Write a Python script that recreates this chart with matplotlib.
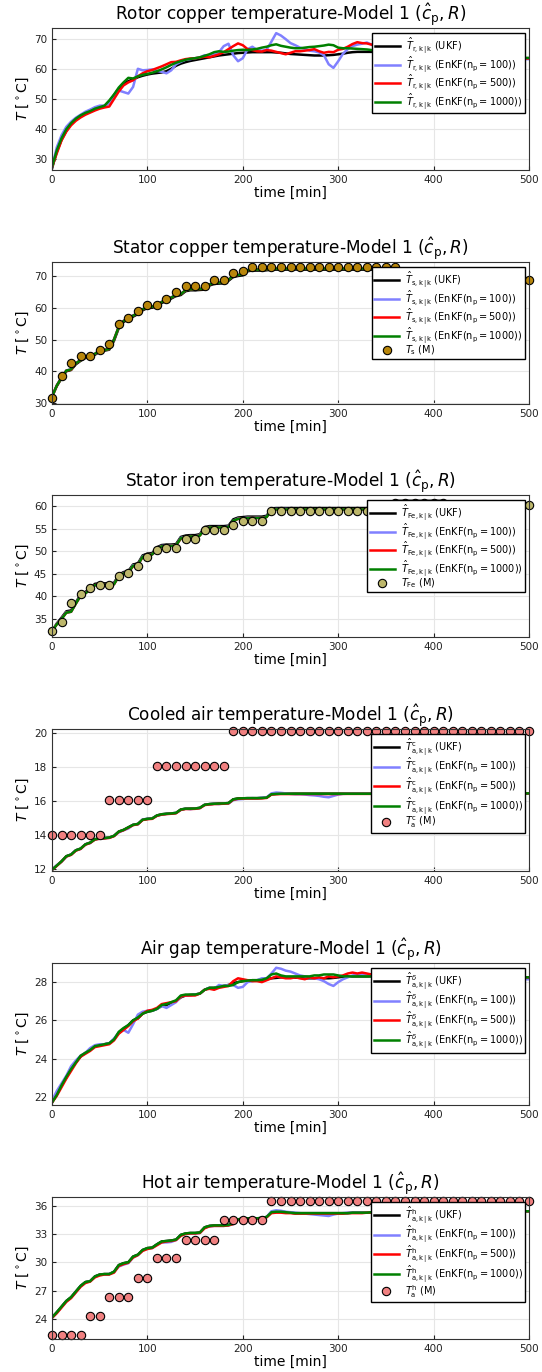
import numpy as np
import matplotlib
matplotlib.use("Agg")
import matplotlib.pyplot as plt

# time grids [min]
t = np.arange(0, 501, 5)      # estimates
t_m = np.arange(0, 501, 10)   # measurements

# ---------------- rotor copper ----------------
rotor_ukf = [27.0, 32.5, 36.5, 39.5, 41.8, 43.2, 44.3, 45.2, 46.0, 46.7,
             47.2, 47.6, 49.0, 51.3, 53.4, 55.0, 55.9, 56.5, 57.2, 57.7,
             58.1, 58.4, 58.6, 58.8, 59.2, 60.0, 61.0, 61.7, 62.2, 62.6,
             62.9, 63.2, 63.5, 63.8, 64.1, 64.4, 64.6, 64.8, 65.0, 65.2,
             65.3, 65.4, 65.5, 65.5, 65.5, 65.5, 65.5, 65.4, 65.3, 65.1,
             64.9, 64.8, 64.7, 64.6, 64.5, 64.4, 64.4, 64.4, 64.5, 64.6,
             64.8, 65.0, 65.3, 65.5, 65.6, 65.6, 65.6, 65.6, 65.5, 65.4,
             65.3, 65.2, 65.1, 65.0, 64.9, 64.8, 64.7, 64.6, 64.5, 64.4,
             64.3, 64.2, 64.1, 64.0, 64.0, 63.9, 63.9, 63.8, 63.8, 63.8,
             63.7, 63.7, 63.7, 63.6, 63.6, 63.6, 63.6, 63.5, 63.5, 63.5,
             63.5]
rotor_enkf100 = [27.5, 34.0, 38.0, 40.8, 42.5, 43.8, 44.8, 45.8, 46.5, 47.3,
                 47.8, 47.8, 48.5, 50.8, 52.8, 52.3, 51.8, 54.0, 60.0, 59.5,
                 59.6, 59.8, 59.3, 59.0, 58.5, 59.5, 61.5, 62.3, 63.0, 63.2,
                 63.5, 63.8, 64.5, 64.3, 65.0, 65.5, 67.5, 68.3, 64.5, 62.5,
                 63.5, 66.5, 67.3, 66.2, 66.0, 66.3, 69.0, 71.8, 71.0, 69.8,
                 68.5, 67.8, 67.0, 66.6, 66.0, 65.8, 65.4, 64.5, 61.5, 60.3,
                 62.5, 65.0, 66.5, 67.5, 68.0, 68.3, 68.7, 68.0, 67.0, 66.2,
                 65.5, 65.0, 64.5, 64.2, 64.0, 63.8, 63.8, 63.6, 63.5, 63.4,
                 63.4, 63.3, 63.3, 63.2, 63.2, 63.1, 63.1, 63.0, 63.0, 63.0,
                 63.0, 63.0, 62.9, 62.9, 62.9, 63.0, 63.0, 63.0, 63.1, 63.2,
                 63.2]
rotor_enkf500 = [27.5, 32.0, 36.3, 39.2, 41.3, 42.8, 43.9, 44.8, 45.5, 46.2,
                 46.8, 47.2, 47.5, 50.0, 52.5, 54.5, 55.5, 56.2, 57.5, 58.5,
                 59.2, 59.6, 60.2, 60.8, 61.5, 62.2, 62.3, 62.8, 63.2, 63.4,
                 63.5, 63.7, 64.0, 63.8, 64.3, 64.8, 65.5, 66.5, 67.5, 68.4,
                 67.8, 66.5, 66.2, 65.8, 65.7, 66.2, 66.0, 65.6, 65.2, 64.8,
                 65.3, 65.8, 65.8, 66.0, 66.2, 66.5, 65.8, 65.3, 65.6, 65.5,
                 66.3, 66.6, 67.3, 68.2, 68.8, 68.5, 68.4, 68.0, 67.5, 67.0,
                 66.5, 66.0, 65.6, 65.2, 65.0, 64.8, 64.6, 64.5, 64.4, 64.3,
                 64.2, 64.1, 64.0, 64.0, 63.9, 63.9, 63.8, 63.8, 63.8, 63.7,
                 63.7, 63.7, 63.6, 63.6, 63.6, 63.5, 63.5, 63.5, 63.5, 63.4,
                 63.4]
rotor_enkf1000 = [27.5, 33.0, 37.0, 40.0, 42.0, 43.5, 44.6, 45.4, 46.0, 46.8,
                  47.3, 47.8, 49.5, 51.5, 53.8, 55.5, 57.0, 56.8, 57.5, 58.0,
                  58.3, 58.7, 59.2, 59.8, 60.5, 61.3, 62.0, 62.5, 63.0, 63.3,
                  63.5, 63.8, 64.3, 64.8, 65.5, 65.8, 65.6, 65.7, 66.0, 66.2,
                  66.3, 66.2, 66.4, 66.6, 67.0, 67.3, 67.8, 68.1, 67.6, 67.3,
                  67.0, 66.8, 66.8, 67.0, 67.2, 67.3, 67.5, 67.7, 68.0, 67.8,
                  67.0, 66.8, 66.8, 66.7, 66.6, 66.5, 66.4, 66.2, 66.0, 65.8,
                  65.6, 65.4, 65.2, 65.0, 64.8, 64.6, 64.5, 64.3, 64.2, 64.1,
                  64.0, 63.9, 63.9, 63.8, 63.8, 63.8, 63.7, 63.7, 63.7, 63.7,
                  63.6, 63.6, 63.6, 63.6, 63.6, 63.6, 63.6, 63.6, 63.6, 63.6,
                  63.6]

# ---------------- stator copper ----------------
statcu_ukf = [32.0, 35.3, 37.8, 40.0, 40.4, 42.2, 43.3, 44.2, 44.4, 45.2,
              46.2, 46.5, 46.8, 49.6, 53.6, 55.5, 56.5, 57.2, 58.0, 59.2,
              59.9, 60.0, 60.5, 61.5, 62.2, 62.9, 63.7, 64.0, 65.2, 65.5,
              65.5, 65.6, 65.7, 67.0, 67.5, 67.6, 67.7, 68.5, 69.7, 70.0,
              70.2, 71.5, 71.7, 71.7, 71.7, 71.8, 72.0, 72.0, 72.0, 72.0,
              72.0, 72.0, 72.0, 72.0, 72.0, 72.0, 72.0, 72.0, 72.0, 72.0,
              72.0, 72.0, 72.0, 72.0, 72.0, 72.0, 72.0, 72.0, 72.0, 72.0,
              72.0, 72.0, 71.9, 71.7, 71.5, 71.2, 71.0, 70.7, 70.5, 70.3,
              70.2, 70.0, 69.9, 69.7, 69.6, 69.5, 69.4, 69.3, 69.2, 69.1,
              69.1, 69.0, 69.0, 68.9, 68.9, 68.8, 68.8, 68.7, 68.7, 68.7,
              68.7]
statcu_enkf100 = [32.0, 35.6, 38.1, 40.3, 40.6, 42.6, 43.5, 44.5, 44.7, 45.5,
                  46.5, 46.8, 47.0, 50.1, 54.0, 55.9, 56.8, 57.6, 58.3, 59.6,
                  60.2, 60.4, 60.8, 61.9, 62.5, 63.3, 64.0, 64.4, 65.5, 65.9,
                  65.8, 66.0, 66.0, 67.4, 67.8, 68.0, 68.0, 68.9, 70.0, 70.4,
                  70.5, 71.9, 72.0, 72.1, 72.0, 72.2, 72.4, 72.3, 72.4, 72.3,
                  72.3, 72.2, 72.3, 72.3, 72.4, 72.3, 72.2, 72.3, 72.3, 72.3,
                  72.3, 72.3, 72.4, 72.3, 72.3, 72.3, 72.3, 72.3, 72.3, 72.3,
                  72.3, 72.3, 72.2, 72.0, 71.8, 71.5, 71.3, 71.0, 70.8, 70.6,
                  70.5, 70.3, 70.2, 70.0, 69.9, 69.8, 69.7, 69.6, 69.5, 69.4,
                  69.4, 69.3, 69.3, 69.2, 69.2, 69.1, 69.1, 69.0, 69.0, 69.0,
                  69.0]
statcu_enkf500 = [32.0, 35.5, 38.0, 40.2, 40.5, 42.5, 43.5, 44.4, 44.6, 45.5,
                  46.4, 46.7, 47.0, 50.0, 54.0, 55.8, 56.8, 57.5, 58.3, 59.5,
                  60.1, 60.3, 60.8, 61.8, 62.5, 63.2, 64.0, 64.3, 65.5, 65.8,
                  65.8, 65.9, 66.0, 67.3, 67.8, 67.9, 68.0, 68.8, 70.0, 70.3,
                  70.5, 71.8, 72.0, 72.0, 72.0, 72.1, 72.3, 72.3, 72.3, 72.3,
                  72.3, 72.3, 72.3, 72.3, 72.3, 72.3, 72.3, 72.3, 72.3, 72.3,
                  72.3, 72.3, 72.3, 72.3, 72.3, 72.3, 72.3, 72.3, 72.3, 72.3,
                  72.3, 72.3, 72.2, 72.0, 71.8, 71.5, 71.3, 71.0, 70.8, 70.6,
                  70.5, 70.3, 70.2, 70.0, 69.9, 69.8, 69.7, 69.6, 69.5, 69.4,
                  69.4, 69.3, 69.3, 69.2, 69.2, 69.1, 69.1, 69.0, 69.0, 69.0,
                  69.0]
statcu_enkf1000 = [32.0, 35.5, 38.0, 40.2, 40.6, 42.5, 43.5, 44.5, 44.6, 45.5,
                   46.5, 46.7, 47.0, 50.0, 54.0, 55.8, 56.8, 57.5, 58.3, 59.5,
                   60.2, 60.3, 60.8, 61.8, 62.5, 63.2, 64.0, 64.3, 65.5, 65.8,
                   65.8, 65.9, 66.0, 67.3, 67.8, 67.9, 68.0, 68.8, 70.0, 70.3,
                   70.5, 71.8, 72.0, 72.0, 72.0, 72.1, 72.3, 72.3, 72.3, 72.3,
                   72.3, 72.3, 72.3, 72.3, 72.3, 72.3, 72.3, 72.3, 72.3, 72.3,
                   72.3, 72.3, 72.3, 72.3, 72.3, 72.3, 72.3, 72.3, 72.3, 72.3,
                   72.3, 72.3, 72.2, 72.0, 71.8, 71.5, 71.3, 71.0, 70.8, 70.6,
                   70.5, 70.3, 70.2, 70.0, 69.9, 69.8, 69.7, 69.6, 69.5, 69.4,
                   69.4, 69.3, 69.3, 69.2, 69.2, 69.1, 69.1, 69.0, 69.0, 69.0,
                   69.0]
statcu_meas = [31.5, 38.5, 42.6, 44.7, 44.7, 46.7, 48.7, 54.8, 56.8, 58.9,
               60.9, 60.9, 62.7, 64.8, 66.8, 66.8, 66.8, 68.8, 68.8, 70.9,
               71.6, 72.9, 72.9, 72.9, 72.9, 72.9, 72.9, 72.9, 72.9, 72.9,
               72.9, 72.9, 72.9, 72.9, 72.9, 72.9, 72.9, 70.9, 70.9, 70.9,
               70.9, 70.9, 70.9, 70.9, 68.8, 68.8, 68.8, 68.8, 68.8, 68.8,
               68.8]

# ---------------- stator iron ----------------
iron_ukf = [32.3, 34.0, 35.3, 36.7, 36.9, 38.7, 40.4, 41.0, 41.8, 42.8,
            42.9, 42.9, 42.9, 43.0, 44.8, 45.4, 45.6, 47.1, 47.3, 49.1,
            49.5, 49.6, 50.9, 51.4, 51.5, 51.5, 51.6, 53.2, 53.5, 53.6,
            53.6, 53.8, 55.4, 55.6, 55.6, 55.6, 55.6, 55.7, 57.1, 57.5,
            57.6, 57.7, 57.7, 57.7, 57.7, 57.9, 59.5, 59.6, 59.6, 59.6,
            59.6, 59.6, 59.6, 59.6, 59.6, 59.6, 59.6, 59.6, 59.6, 59.6,
            59.6, 59.6, 59.6, 59.6, 59.6, 59.6, 59.6, 59.6, 59.6, 59.6,
            59.9, 60.9, 61.2, 61.2, 61.2, 61.2, 61.2, 61.2, 61.2, 61.2,
            61.2, 61.2, 61.2, 60.9, 60.7, 60.6, 60.6, 60.6, 60.6, 60.6,
            60.6, 60.6, 60.6, 60.6, 60.6, 60.6, 60.6, 60.6, 60.6, 60.6,
            60.6]
iron_enkf100 = [32.3, 33.9, 35.1, 36.5, 36.6, 38.5, 40.2, 40.8, 41.6, 42.5,
                42.6, 42.7, 42.6, 42.8, 44.5, 45.2, 45.3, 46.9, 47.0, 48.9,
                49.2, 49.4, 50.6, 51.2, 51.2, 51.3, 51.3, 53.0, 53.2, 53.4,
                53.3, 53.6, 55.1, 55.4, 55.3, 55.4, 55.3, 55.5, 56.8, 57.3,
                57.3, 57.5, 57.4, 57.5, 57.4, 57.7, 59.2, 59.4, 59.3, 59.4,
                59.3, 59.3, 59.4, 59.3, 59.3, 59.2, 59.3, 59.3, 59.3, 59.3,
                59.3, 59.3, 59.3, 59.3, 59.3, 59.3, 59.3, 59.3, 59.3, 59.3,
                59.6, 60.6, 61.0, 61.0, 61.0, 61.0, 61.0, 61.0, 61.0, 61.0,
                61.0, 61.0, 61.0, 60.7, 60.5, 60.4, 60.4, 60.4, 60.4, 60.4,
                60.4, 60.4, 60.4, 60.4, 60.4, 60.4, 60.4, 60.4, 60.4, 60.4,
                60.4]
iron_enkf500 = [32.3, 33.8, 35.0, 36.4, 36.6, 38.4, 40.1, 40.7, 41.5, 42.5,
                42.6, 42.6, 42.6, 42.7, 44.4, 45.1, 45.3, 46.7, 47.0, 48.7,
                49.2, 49.3, 50.5, 51.1, 51.2, 51.2, 51.3, 52.8, 53.2, 53.3,
                53.3, 53.5, 55.0, 55.3, 55.3, 55.3, 55.3, 55.4, 56.7, 57.2,
                57.3, 57.4, 57.4, 57.4, 57.4, 57.6, 59.1, 59.3, 59.3, 59.3,
                59.3, 59.3, 59.3, 59.3, 59.3, 59.3, 59.3, 59.3, 59.3, 59.3,
                59.3, 59.3, 59.3, 59.3, 59.3, 59.3, 59.3, 59.3, 59.3, 59.3,
                59.6, 60.6, 61.0, 61.0, 61.0, 61.0, 61.0, 61.0, 61.0, 61.0,
                61.0, 61.0, 61.0, 60.7, 60.5, 60.4, 60.4, 60.4, 60.4, 60.4,
                60.4, 60.4, 60.4, 60.4, 60.4, 60.4, 60.4, 60.4, 60.4, 60.4,
                60.4]
iron_enkf1000 = [32.3, 33.8, 35.0, 36.4, 36.6, 38.4, 40.2, 40.7, 41.5, 42.5,
                 42.6, 42.6, 42.6, 42.7, 44.5, 45.1, 45.3, 46.8, 47.0, 48.8,
                 49.2, 49.3, 50.6, 51.1, 51.2, 51.2, 51.3, 52.9, 53.2, 53.3,
                 53.3, 53.5, 55.1, 55.3, 55.3, 55.3, 55.3, 55.4, 56.8, 57.2,
                 57.3, 57.4, 57.4, 57.4, 57.4, 57.6, 59.2, 59.3, 59.3, 59.3,
                 59.3, 59.3, 59.3, 59.3, 59.3, 59.3, 59.3, 59.3, 59.3, 59.3,
                 59.3, 59.3, 59.3, 59.3, 59.3, 59.3, 59.3, 59.3, 59.3, 59.3,
                 59.6, 60.6, 61.0, 61.0, 61.0, 61.0, 61.0, 61.0, 61.0, 61.0,
                 61.0, 61.0, 61.0, 60.7, 60.5, 60.4, 60.4, 60.4, 60.4, 60.4,
                 60.4, 60.4, 60.4, 60.4, 60.4, 60.4, 60.4, 60.4, 60.4, 60.4,
                 60.4]
iron_meas = [32.3, 34.4, 38.5, 40.5, 41.8, 42.6, 42.6, 44.6, 45.3, 46.7,
             48.7, 50.2, 50.8, 50.8, 52.7, 52.7, 54.7, 54.7, 54.7, 55.8,
             56.8, 56.8, 56.8, 58.9, 58.9, 58.9, 58.9, 58.9, 58.9, 58.9,
             58.9, 58.9, 58.9, 58.9, 58.9, 58.9, 60.8, 60.8, 60.8, 60.8,
             60.8, 60.8, 60.3, 60.3, 60.3, 60.3, 60.3, 60.3, 60.3, 60.3,
             60.3]

# ---------------- cooled air ----------------
cool_ukf = [11.95, 12.2, 12.45, 12.75, 12.85, 13.1, 13.2, 13.45, 13.55, 13.75,
            13.8, 13.82, 13.85, 13.95, 14.2, 14.3, 14.45, 14.6, 14.65, 14.9,
            14.95, 14.97, 15.15, 15.22, 15.25, 15.27, 15.3, 15.5, 15.55, 15.55,
            15.56, 15.6, 15.78, 15.82, 15.84, 15.85, 15.86, 15.88, 16.1, 16.15,
            16.16, 16.17, 16.17, 16.17, 16.18, 16.2, 16.4, 16.42, 16.43, 16.43,
            16.43, 16.43, 16.43, 16.43, 16.43, 16.43, 16.43, 16.43, 16.43, 16.43,
            16.43, 16.43, 16.43, 16.43, 16.43, 16.43, 16.43, 16.43, 16.43, 16.43,
            16.43, 16.43, 16.43, 16.43, 16.43, 16.43, 16.44, 16.44, 16.44, 16.44,
            16.44, 16.44, 16.44, 16.44, 16.44, 16.44, 16.44, 16.44, 16.44, 16.44,
            16.45, 16.45, 16.45, 16.45, 16.45, 16.45, 16.45, 16.45, 16.45, 16.45,
            16.45]
cool_enkf100 = [11.95, 12.22, 12.43, 12.72, 12.86, 13.1, 13.18, 13.45, 13.52, 13.75,
                13.78, 13.82, 13.83, 13.95, 14.15, 14.28, 14.38, 14.6, 14.62, 14.92,
                14.95, 14.98, 15.13, 15.2, 15.24, 15.27, 15.3, 15.47, 15.55, 15.52,
                15.56, 15.58, 15.78, 15.8, 15.84, 15.82, 15.86, 15.85, 16.05, 16.1,
                16.12, 16.15, 16.17, 16.16, 16.2, 16.22, 16.45, 16.5, 16.48, 16.45,
                16.42, 16.4, 16.4, 16.38, 16.35, 16.33, 16.3, 16.25, 16.22, 16.3,
                16.38, 16.42, 16.43, 16.43, 16.43, 16.43, 16.43, 16.43, 16.43, 16.43,
                16.43, 16.43, 16.43, 16.43, 16.43, 16.43, 16.44, 16.44, 16.44, 16.44,
                16.44, 16.44, 16.44, 16.44, 16.44, 16.44, 16.44, 16.44, 16.44, 16.44,
                16.45, 16.45, 16.45, 16.45, 16.45, 16.45, 16.45, 16.45, 16.45, 16.45,
                16.45]
cool_enkf500 = [11.95, 12.18, 12.43, 12.73, 12.83, 13.08, 13.18, 13.43, 13.53, 13.73,
                13.78, 13.8, 13.83, 13.93, 14.18, 14.28, 14.43, 14.58, 14.63, 14.88,
                14.93, 14.95, 15.13, 15.2, 15.23, 15.25, 15.28, 15.48, 15.53, 15.53,
                15.54, 15.58, 15.76, 15.8, 15.82, 15.83, 15.84, 15.86, 16.08, 16.13,
                16.14, 16.15, 16.15, 16.15, 16.16, 16.18, 16.38, 16.4, 16.41, 16.41,
                16.41, 16.41, 16.41, 16.41, 16.41, 16.41, 16.41, 16.41, 16.41, 16.41,
                16.41, 16.42, 16.42, 16.42, 16.42, 16.42, 16.42, 16.42, 16.42, 16.42,
                16.43, 16.43, 16.43, 16.43, 16.43, 16.43, 16.44, 16.44, 16.44, 16.44,
                16.44, 16.44, 16.44, 16.44, 16.44, 16.44, 16.44, 16.44, 16.44, 16.44,
                16.45, 16.45, 16.45, 16.45, 16.45, 16.45, 16.45, 16.45, 16.45, 16.45,
                16.45]
cool_enkf1000 = [11.95, 12.2, 12.45, 12.75, 12.85, 13.1, 13.2, 13.45, 13.55, 13.75,
                 13.8, 13.82, 13.85, 13.95, 14.2, 14.3, 14.45, 14.6, 14.65, 14.9,
                 14.95, 14.97, 15.15, 15.22, 15.25, 15.27, 15.3, 15.5, 15.55, 15.55,
                 15.56, 15.6, 15.78, 15.82, 15.84, 15.85, 15.86, 15.88, 16.1, 16.15,
                 16.16, 16.17, 16.17, 16.17, 16.18, 16.2, 16.4, 16.42, 16.43, 16.43,
                 16.43, 16.43, 16.43, 16.43, 16.43, 16.43, 16.43, 16.43, 16.43, 16.43,
                 16.43, 16.43, 16.43, 16.43, 16.43, 16.43, 16.43, 16.43, 16.43, 16.43,
                 16.43, 16.43, 16.43, 16.43, 16.43, 16.43, 16.44, 16.44, 16.44, 16.44,
                 16.44, 16.44, 16.44, 16.44, 16.44, 16.44, 16.44, 16.44, 16.44, 16.44,
                 16.45, 16.45, 16.45, 16.45, 16.45, 16.45, 16.45, 16.45, 16.45, 16.45,
                 16.45]
cool_meas = [14.0, 14.0, 14.0, 14.0, 14.0, 14.0,
             16.05, 16.05, 16.05, 16.05, 16.05,
             18.08, 18.08, 18.08, 18.08, 18.08, 18.08, 18.08, 18.08,
             20.1, 20.1, 20.1, 20.1, 20.1, 20.1, 20.1, 20.1, 20.1, 20.1, 20.1,
             20.1, 20.1, 20.1, 20.1, 20.1, 20.1, 20.1, 20.1, 20.1, 20.1, 20.1,
             20.1, 20.1, 20.1, 20.1, 20.1, 20.1, 20.1, 20.1, 20.1, 20.1]

# ---------------- air gap ----------------
gap_ukf = [21.7, 22.1, 22.6, 23.0, 23.45, 23.8, 24.1, 24.3, 24.45, 24.65,
           24.7, 24.75, 24.8, 25.0, 25.35, 25.55, 25.75, 26.0, 26.1, 26.35,
           26.45, 26.5, 26.6, 26.75, 26.8, 26.9, 27.0, 27.2, 27.3, 27.33,
           27.35, 27.4, 27.6, 27.7, 27.7, 27.75, 27.8, 27.85, 27.95, 28.0,
           28.05, 28.08, 28.1, 28.1, 28.12, 28.15, 28.2, 28.22, 28.25, 28.25,
           28.25, 28.24, 28.22, 28.2, 28.2, 28.2, 28.2, 28.2, 28.2, 28.22,
           28.25, 28.28, 28.3, 28.3, 28.3, 28.3, 28.3, 28.3, 28.3, 28.3,
           28.3, 28.3, 28.3, 28.3, 28.3, 28.28, 28.28, 28.27, 28.27, 28.26,
           28.26, 28.25, 28.25, 28.25, 28.24, 28.24, 28.23, 28.23, 28.23, 28.22,
           28.22, 28.22, 28.21, 28.21, 28.21, 28.2, 28.2, 28.2, 28.2, 28.2,
           28.2]
gap_enkf100 = [21.8, 22.3, 22.7, 23.1, 23.6, 23.9, 24.15, 24.3, 24.55, 24.7,
               24.75, 24.75, 24.8, 25.05, 25.35, 25.5, 25.35, 25.8, 26.3, 26.45,
               26.5, 26.5, 26.6, 26.75, 26.65, 26.8, 26.95, 27.25, 27.3, 27.3,
               27.35, 27.4, 27.6, 27.7, 27.65, 27.85, 27.8, 27.85, 27.85, 27.7,
               27.75, 28.0, 28.05, 28.1, 28.2, 28.2, 28.45, 28.75, 28.7, 28.6,
               28.55, 28.45, 28.35, 28.3, 28.25, 28.2, 28.15, 28.05, 27.9, 27.8,
               28.0, 28.15, 28.25, 28.35, 28.4, 28.4, 28.35, 28.3, 28.3, 28.3,
               28.3, 28.28, 28.27, 28.26, 28.25, 28.24, 28.23, 28.22, 28.21, 28.2,
               28.2, 28.19, 28.19, 28.18, 28.18, 28.17, 28.17, 28.17, 28.16, 28.16,
               28.16, 28.16, 28.15, 28.15, 28.15, 28.15, 28.15, 28.15, 28.15, 28.15,
               28.15]
gap_enkf500 = [21.7, 22.05, 22.5, 22.95, 23.35, 23.75, 24.1, 24.25, 24.4, 24.6,
               24.65, 24.7, 24.75, 24.95, 25.3, 25.5, 25.7, 25.95, 26.1, 26.35,
               26.5, 26.55, 26.65, 26.85, 26.9, 26.95, 27.0, 27.25, 27.3, 27.3,
               27.3, 27.4, 27.6, 27.65, 27.6, 27.7, 27.75, 27.8, 28.05, 28.2,
               28.15, 28.1, 28.05, 28.05, 28.0, 28.1, 28.2, 28.3, 28.25, 28.2,
               28.2, 28.25, 28.2, 28.15, 28.25, 28.2, 28.25, 28.2, 28.3, 28.25,
               28.3, 28.35, 28.45, 28.5, 28.45, 28.5, 28.45, 28.4, 28.35, 28.35,
               28.3, 28.3, 28.3, 28.3, 28.3, 28.29, 28.29, 28.28, 28.28, 28.28,
               28.27, 28.27, 28.27, 28.26, 28.26, 28.26, 28.26, 28.25, 28.25, 28.25,
               28.25, 28.25, 28.25, 28.25, 28.25, 28.25, 28.25, 28.25, 28.25, 28.25,
               28.25]
gap_enkf1000 = [21.7, 22.1, 22.6, 23.05, 23.45, 23.8, 24.15, 24.3, 24.45, 24.65,
                24.7, 24.75, 24.8, 25.0, 25.4, 25.6, 25.75, 26.0, 26.15, 26.35,
                26.45, 26.5, 26.6, 26.8, 26.85, 26.95, 27.05, 27.3, 27.35, 27.35,
                27.35, 27.4, 27.6, 27.7, 27.7, 27.75, 27.8, 27.8, 27.85, 28.0,
                28.05, 28.08, 28.1, 28.1, 28.12, 28.2, 28.4, 28.45, 28.35, 28.3,
                28.3, 28.3, 28.3, 28.3, 28.3, 28.35, 28.35, 28.4, 28.4, 28.4,
                28.35, 28.3, 28.3, 28.3, 28.3, 28.3, 28.3, 28.3, 28.3, 28.3,
                28.3, 28.3, 28.3, 28.3, 28.3, 28.29, 28.29, 28.28, 28.28, 28.28,
                28.27, 28.27, 28.27, 28.26, 28.26, 28.26, 28.26, 28.25, 28.25, 28.25,
                28.25, 28.25, 28.25, 28.25, 28.25, 28.25, 28.25, 28.25, 28.25, 28.25,
                28.25]

# ---------------- hot air ----------------
hot_ukf = [24.15, 24.7, 25.3, 25.9, 26.3, 26.9, 27.5, 27.9, 28.0, 28.5,
           28.7, 28.75, 28.75, 29.0, 29.7, 29.9, 30.0, 30.6, 30.8, 31.3,
           31.5, 31.55, 31.9, 32.2, 32.25, 32.3, 32.4, 32.9, 33.05, 33.1,
           33.1, 33.15, 33.7, 33.85, 33.9, 33.9, 33.9, 33.95, 34.1, 34.55,
           34.6, 34.65, 34.65, 34.65, 34.7, 34.8, 35.3, 35.35, 35.35, 35.3,
           35.25, 35.2, 35.2, 35.2, 35.2, 35.2, 35.2, 35.2, 35.2, 35.2,
           35.2, 35.2, 35.2, 35.25, 35.25, 35.25, 35.25, 35.3, 35.3, 35.3,
           35.3, 35.3, 35.3, 35.3, 35.3, 35.3, 35.3, 35.3, 35.3, 35.3,
           35.35, 35.35, 35.35, 35.35, 35.35, 35.35, 35.35, 35.35, 35.35, 35.35,
           35.4, 35.4, 35.4, 35.4, 35.4, 35.4, 35.4, 35.4, 35.4, 35.4,
           35.4]
hot_enkf100 = [24.1, 24.65, 25.25, 25.85, 26.25, 26.85, 27.45, 27.85, 28.0, 28.45,
               28.65, 28.7, 28.75, 28.95, 29.55, 29.75, 29.9, 30.5, 30.75, 31.25,
               31.45, 31.5, 31.85, 32.1, 32.1, 32.15, 32.35, 32.85, 33.0, 33.05,
               33.05, 33.1, 33.65, 33.8, 33.85, 33.85, 33.85, 33.9, 34.05, 34.5,
               34.55, 34.6, 34.6, 34.6, 34.65, 34.8, 35.4, 35.5, 35.45, 35.35,
               35.3, 35.25, 35.2, 35.15, 35.1, 35.05, 35.0, 34.95, 34.9, 35.05,
               35.15, 35.2, 35.25, 35.25, 35.25, 35.25, 35.25, 35.3, 35.3, 35.3,
               35.3, 35.3, 35.3, 35.3, 35.3, 35.3, 35.3, 35.3, 35.3, 35.3,
               35.35, 35.35, 35.35, 35.35, 35.35, 35.35, 35.35, 35.35, 35.35, 35.35,
               35.4, 35.4, 35.4, 35.4, 35.4, 35.4, 35.4, 35.4, 35.4, 35.4,
               35.4]
hot_enkf500 = [24.1, 24.6, 25.2, 25.8, 26.2, 26.8, 27.4, 27.8, 27.95, 28.4,
               28.6, 28.7, 28.7, 28.9, 29.6, 29.8, 29.95, 30.5, 30.75, 31.2,
               31.4, 31.5, 31.8, 32.1, 32.2, 32.25, 32.35, 32.8, 33.0, 33.05,
               33.05, 33.1, 33.6, 33.8, 33.85, 33.85, 33.85, 33.9, 34.05, 34.5,
               34.55, 34.6, 34.6, 34.6, 34.65, 34.75, 35.2, 35.25, 35.25, 35.2,
               35.2, 35.15, 35.15, 35.15, 35.15, 35.15, 35.15, 35.15, 35.15, 35.15,
               35.15, 35.15, 35.2, 35.2, 35.2, 35.2, 35.25, 35.25, 35.25, 35.25,
               35.3, 35.3, 35.3, 35.3, 35.3, 35.3, 35.3, 35.3, 35.3, 35.3,
               35.35, 35.35, 35.35, 35.35, 35.35, 35.35, 35.35, 35.35, 35.35, 35.35,
               35.4, 35.4, 35.4, 35.4, 35.4, 35.4, 35.4, 35.4, 35.4, 35.4,
               35.4]
hot_enkf1000 = [24.15, 24.7, 25.3, 25.9, 26.3, 26.9, 27.5, 27.9, 28.0, 28.5,
                28.7, 28.75, 28.75, 29.0, 29.7, 29.9, 30.0, 30.6, 30.8, 31.3,
                31.5, 31.55, 31.9, 32.2, 32.25, 32.3, 32.4, 32.9, 33.05, 33.1,
                33.1, 33.15, 33.7, 33.85, 33.9, 33.9, 33.9, 33.95, 34.1, 34.55,
                34.6, 34.65, 34.65, 34.65, 34.7, 34.8, 35.3, 35.35, 35.35, 35.3,
                35.25, 35.2, 35.2, 35.2, 35.2, 35.2, 35.2, 35.2, 35.2, 35.2,
                35.2, 35.2, 35.2, 35.25, 35.25, 35.25, 35.25, 35.3, 35.3, 35.3,
                35.3, 35.3, 35.3, 35.3, 35.3, 35.3, 35.3, 35.3, 35.3, 35.3,
                35.35, 35.35, 35.35, 35.35, 35.35, 35.35, 35.35, 35.35, 35.35, 35.35,
                35.4, 35.4, 35.4, 35.4, 35.4, 35.4, 35.4, 35.4, 35.4, 35.4,
                35.4]
hot_meas = [22.3, 22.3, 22.3, 22.3, 24.3, 24.3, 26.35, 26.35, 26.35, 28.35,
            28.35, 30.4, 30.4, 30.4, 32.4, 32.4, 32.4, 32.4, 34.45, 34.45,
            34.45, 34.45, 34.45, 36.45, 36.45, 36.45, 36.45, 36.45, 36.45, 36.45,
            36.45, 36.45, 36.45, 36.45, 36.45, 36.45, 36.45, 36.45, 36.45, 36.45,
            36.45, 36.45, 36.45, 36.45, 36.45, 36.45, 36.45, 36.45, 36.45, 36.45,
            36.45]

panels = [
    ("Rotor copper", r"\mathrm{r,k\,|\,k}", "", [rotor_ukf, rotor_enkf100, rotor_enkf500, rotor_enkf1000],
     None, None, None, (26.5, 73.5), [30, 40, 50, 60, 70]),
    ("Stator copper", r"\mathrm{s,k\,|\,k}", "", [statcu_ukf, statcu_enkf100, statcu_enkf500, statcu_enkf1000],
     statcu_meas, r"$T_{\mathrm{s}}$ (M)", "#b8860b", (29.7, 74.4), [30, 40, 50, 60, 70]),
    ("Stator iron", r"\mathrm{Fe,k\,|\,k}", "", [iron_ukf, iron_enkf100, iron_enkf500, iron_enkf1000],
     iron_meas, r"$T_{\mathrm{Fe}}$ (M)", "#bdb76b", (31.0, 62.5), [35, 40, 45, 50, 55, 60]),
    ("Cooled air", r"\mathrm{a,k\,|\,k}", r"\mathrm{c}", [cool_ukf, cool_enkf100, cool_enkf500, cool_enkf1000],
     cool_meas, r"$T^{\mathrm{c}}_{\mathrm{a}}$ (M)", "#f08080", (11.88, 20.24), [12, 14, 16, 18, 20]),
    ("Air gap", r"\mathrm{a,k\,|\,k}", r"\delta", [gap_ukf, gap_enkf100, gap_enkf500, gap_enkf1000],
     None, None, None, (21.57, 29.0), [22, 24, 26, 28]),
    ("Hot air", r"\mathrm{a,k\,|\,k}", r"\mathrm{h}", [hot_ukf, hot_enkf100, hot_enkf500, hot_enkf1000],
     hot_meas, r"$T^{\mathrm{h}}_{\mathrm{a}}$ (M)", "#f08080", (21.87, 36.91), [24, 27, 30, 33, 36]),
]

line_colors = ["black", "#8080ff", "red", "green"]
line_tags = ["(UKF)", r"(EnKF($\mathrm{n_p}=100$))", r"(EnKF($\mathrm{n_p}=500$))", r"(EnKF($\mathrm{n_p}=1000$))"]

W, H = 542, 1372
fig = plt.figure(figsize=(W / 100, H / 100), dpi=100)
tops = [28, 262, 495, 729, 963, 1197]
ax_h = 142

for i, (name, sub, sup, series, meas, mlabel, mcolor, ylim, yticks) in enumerate(panels):
    ax = fig.add_axes([52 / W, 1 - (tops[i] + ax_h) / H, 477 / W, ax_h / H])
    for vals, col, tag in zip(series, line_colors, line_tags):
        if sup:
            lab = r"$\hat{T}^{%s}_{%s}$ %s" % (sup, sub, tag)
        else:
            lab = r"$\hat{T}_{%s}$ %s" % (sub, tag)
        ax.plot(t, vals, color=col, lw=1.8, label=lab)
    if meas is not None:
        ax.plot(t_m, meas, "o", ms=6, mfc=mcolor, mec="black", mew=0.8,
                label=mlabel, clip_on=False)
    ax.set_xlim(0, 500)
    ax.set_ylim(*ylim)
    ax.set_yticks(yticks)
    ax.set_xticks([0, 100, 200, 300, 400, 500])
    ax.tick_params(direction="in", length=3, labelsize=7.5, colors="#222222")
    ax.grid(True, color="#e6e6e6", lw=0.8)
    ax.set_axisbelow(True)
    for sp in ax.spines.values():
        sp.set_color("#333333")
    ax.set_title(name + r" temperature-Model 1 ($\hat{c}_{\mathrm{p}}, R$)", fontsize=12.2, pad=4)
    ax.set_xlabel("time [min]", fontsize=10, labelpad=1)
    ax.set_ylabel(r"$T$ [$^\circ$C]", fontsize=10, labelpad=2)
    leg = ax.legend(loc="upper right", bbox_to_anchor=(1 - 4 / 477, 1 - 5 / ax_h),
                    borderaxespad=0, fontsize=7, frameon=True, fancybox=False,
                    handlelength=2.6, labelspacing=-0.15, borderpad=0.25,
                    handletextpad=0.6, framealpha=1)
    leg.get_frame().set_edgecolor("black")
    leg.get_frame().set_linewidth(1.0)
    leg.set_zorder(5)

fig.savefig("out.png", dpi=100)
